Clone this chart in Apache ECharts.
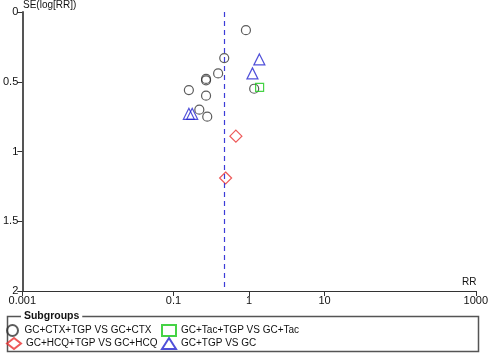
<!DOCTYPE html>
<html>
<head>
<meta charset="utf-8">
<script src="https://cdn.jsdelivr.net/npm/echarts@6/dist/echarts.min.js"></script>
<style>
  html, body { margin: 0; padding: 0; background: #fff; }
  #chart { width: 491px; height: 355px; }
</style>
</head>
<body>
<div id="chart"></div>
<script>
// [RR, SE(log RR)]
const ctxPoints = [
  [0.91, 0.13], [0.47, 0.33], [0.39, 0.44], [0.27, 0.48], [0.27, 0.49],
  [0.16, 0.56], [0.27, 0.60], [1.17, 0.55], [0.22, 0.70], [0.28, 0.75]
];
const hcqPoints = [[0.67, 0.89], [0.49, 1.19]];
const tacPoints = [[1.38, 0.54]];
const tgpPoints = [[1.37, 0.34], [1.11, 0.44], [0.16, 0.73], [0.177, 0.73]];
const pooledRR = 0.47;
const xTicks = [0.001, 0.1, 1, 10, 1000];
const seriesNames = [
  'GC+CTX+TGP VS GC+CTX',
  'GC+HCQ+TGP VS GC+HCQ',
  'GC+Tac+TGP VS GC+Tac',
  'GC+TGP VS GC'
];

const font = 'Liberation Sans, Arial, sans-serif';
const chart = echarts.init(document.getElementById('chart'));

function scatter(name, data, symbol, size, color) {
  return {
    name: name,
    type: 'scatter',
    data: data,
    symbol: symbol,
    symbolSize: size,
    itemStyle: { color: 'rgba(0,0,0,0)', borderColor: color, borderWidth: 1.2 },
    emphasis: { disabled: true }
  };
}

// one legend per entry, laid out as a 2x2 block
function legendItem(name, left, top) {
  return {
    data: [name],
    left: left, top: top, padding: 0,
    itemWidth: 14, itemHeight: 11, itemGap: 5,
    textStyle: { fontSize: 10, fontFamily: font, color: '#111' },
    selectedMode: false
  };
}

const option = {
  animation: false,
  grid: { left: 20, top: 12, right: 12, bottom: 64 },
  xAxis: {
    type: 'log',
    logBase: 10,
    min: 0.001,
    max: 1000,
    axisLine: { onZero: false, lineStyle: { color: '#333', width: 1 } },
    axisTick: { customValues: xTicks, length: 5, lineStyle: { color: '#333' } },
    axisLabel: {
      customValues: xTicks,
      color: '#111', fontSize: 11, fontFamily: font, margin: 4,
      formatter: v => String(v)
    },
    splitLine: { show: false }
  },
  yAxis: {
    type: 'value',
    inverse: true,
    min: 0,
    max: 2,
    interval: 0.5,
    axisLine: { show: true, onZero: false, lineStyle: { color: '#555', width: 2 } },
    axisTick: { show: true, length: 5, lineStyle: { color: '#333' } },
    axisLabel: { color: '#111', fontSize: 11, fontFamily: font, margin: 4 },
    splitLine: { show: false }
  },
  legend: [
    legendItem(seriesNames[0], 6, 324),
    legendItem(seriesNames[1], 6, 337),
    legendItem(seriesNames[2], 161, 324),
    legendItem(seriesNames[3], 161, 337)
  ],
  graphic: [
    {
      type: 'rect', silent: true,
      shape: { x: 7.5, y: 316.5, width: 471, height: 35 },
      style: { fill: 'none', stroke: '#555', lineWidth: 1.5 }
    },
    {
      type: 'text', left: 21, top: 311, silent: true,
      style: {
        text: ' Subgroups ', fontSize: 10.5, fontWeight: 'bold', fontFamily: font,
        fill: '#111', backgroundColor: '#fff'
      }
    },
    {
      type: 'text', left: 23, top: 0, silent: true,
      style: { text: 'SE(log[RR])', fontSize: 10, fontFamily: font, fill: '#111' }
    },
    {
      type: 'text', left: 462, top: 277, silent: true,
      style: { text: 'RR', fontSize: 10, fontFamily: font, fill: '#111' }
    }
  ],
  series: [
    Object.assign(scatter(seriesNames[0], ctxPoints, 'circle', 9, '#333'), {
      markLine: {
        silent: true, symbol: 'none', label: { show: false },
        lineStyle: { color: '#3c3cd8', type: [5, 4], width: 1.2 },
        data: [{ xAxis: pooledRR }]
      }
    }),
    scatter(seriesNames[1], hcqPoints, 'diamond', 12, '#e83030'),
    scatter(seriesNames[2], tacPoints, 'rect', 8, '#18c818'),
    scatter(seriesNames[3], tgpPoints, 'triangle', 11, '#2424d0')
  ]
};

chart.setOption(option);
</script>
</body>
</html>
